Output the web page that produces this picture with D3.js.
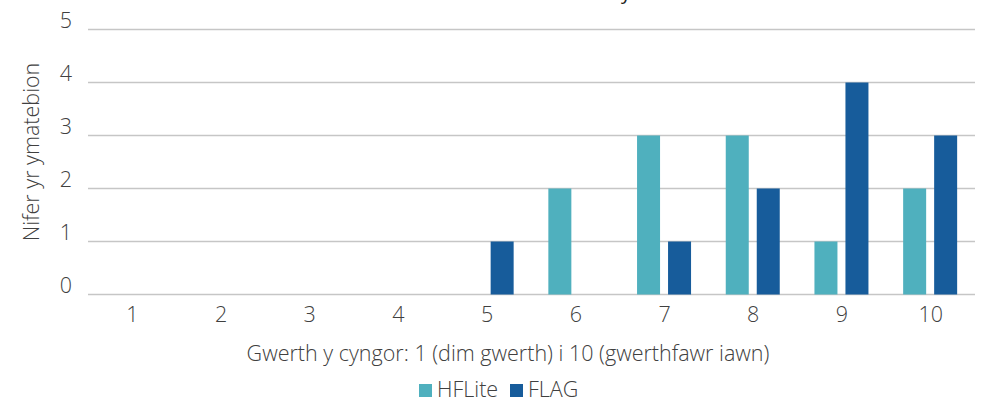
<!DOCTYPE html>
<html>
<head>
<meta charset="utf-8">
<script src="https://cdn.jsdelivr.net/npm/d3@7"></script>
<style>
  body { margin: 0; background: #fff; }
  text { font-family: "Open Sans", Lato, sans-serif; font-weight: 300; fill: #404040; }
</style>
</head>
<body>
<div id="chart"></div>
<script>
// chart data
const categories = ['1', '2', '3', '4', '5', '6', '7', '8', '9', '10'];
const seriesNames = ['HFLite', 'FLAG'];
const hfliteValues = [0, 0, 0, 0, 0, 2, 3, 3, 1, 2];
const flagValues = [0, 0, 0, 0, 1, 0, 1, 2, 4, 3];
const yTicks = [0, 1, 2, 3, 4, 5];
const colors = ['#4fb0be', '#175c9b'];

const width = 985, height = 402;
const margin = { top: 29.5, right: 10, bottom: 107.5, left: 88 };
const innerW = width - margin.left - margin.right;
const innerH = height - margin.top - margin.bottom;
const fontSize = '21.5px';

const svg = d3.select('#chart')
    .append('svg')
    .attr('width', width)
    .attr('height', height);

// cut off title, only its descender is visible
svg.append('text')
    .attr('x', 626)
    .attr('y', -1)
    .attr('text-anchor', 'middle')
    .style('font-size', '20px')
    .style('font-weight', 400)
    .style('fill', '#222')
    .text('y');

const g = svg.append('g')
    .attr('transform', `translate(${margin.left}, ${margin.top})`);

const x = d3.scaleBand()
    .domain(categories)
    .range([0, innerW]);

// two bars per group, 23px wide with an 8px gap
const x1 = d3.scaleBand()
    .domain(seriesNames)
    .range([x.bandwidth() / 2 - 27.5, x.bandwidth() / 2 + 26.5])
    .paddingInner(0.258);

const y = d3.scaleLinear()
    .domain([0, 5])
    .range([innerH, 0]);

// gridlines
g.append('g')
    .selectAll('line')
    .data(yTicks)
    .join('line')
    .attr('x1', 0)
    .attr('x2', innerW)
    .attr('y1', d => y(d))
    .attr('y2', d => y(d))
    .attr('stroke', '#c6c6c6')
    .attr('stroke-width', 1.3);

// y axis labels
const yAxis = g.append('g')
    .call(d3.axisLeft(y).tickValues(yTicks).tickFormat(d3.format('d')).tickSize(0).tickPadding(16));
yAxis.select('.domain').remove();
yAxis.selectAll('text')
    .style('font-size', fontSize)
    .style('font-family', '"Open Sans", sans-serif')
    .attr('fill', '#404040')
    .attr('dy', '-0.1em');

// x axis labels
const xAxis = g.append('g')
    .attr('transform', `translate(0, ${innerH})`)
    .call(d3.axisBottom(x).tickSize(0).tickPadding(12));
xAxis.select('.domain').remove();
xAxis.selectAll('text')
    .style('font-size', fontSize)
    .style('font-family', '"Open Sans", sans-serif')
    .attr('fill', '#404040');

// bars
const rows = categories.map((c, i) => ({ cat: c, values: [hfliteValues[i], flagValues[i]] }));
g.append('g')
    .selectAll('g')
    .data(rows)
    .join('g')
    .attr('transform', d => `translate(${x(d.cat)}, 0)`)
    .selectAll('rect')
    .data(d => d.values.map((v, j) => ({ name: seriesNames[j], value: v, color: colors[j] })))
    .join('rect')
    .filter(d => d.value > 0)
    .attr('x', d => x1(d.name))
    .attr('width', x1.bandwidth())
    .attr('y', d => y(d.value))
    .attr('height', d => innerH - y(d.value))
    .attr('fill', d => d.color);

// axis titles
svg.append('text')
    .attr('x', 508)
    .attr('y', 361)
    .attr('text-anchor', 'middle')
    .style('font-size', fontSize)
    .text('Gwerth y cyngor: 1 (dim gwerth) i 10 (gwerthfawr iawn)');

svg.append('text')
    .attr('transform', 'rotate(-90)')
    .attr('x', -152)
    .attr('y', 39)
    .attr('text-anchor', 'middle')
    .style('font-size', fontSize)
    .text('Nifer yr ymatebion');

// legend
const legendItems = [
    { name: 'HFLite', color: colors[0], x: 419 },
    { name: 'FLAG', color: colors[1], x: 510 }
];
const legend = svg.append('g');
legend.selectAll('rect')
    .data(legendItems)
    .join('rect')
    .attr('x', d => d.x)
    .attr('y', 384)
    .attr('width', 13)
    .attr('height', 13)
    .attr('fill', d => d.color);
legend.selectAll('text')
    .data(legendItems)
    .join('text')
    .attr('x', d => d.x + 18)
    .attr('y', 397)
    .style('font-size', fontSize)
    .text(d => d.name);
</script>
</body>
</html>
